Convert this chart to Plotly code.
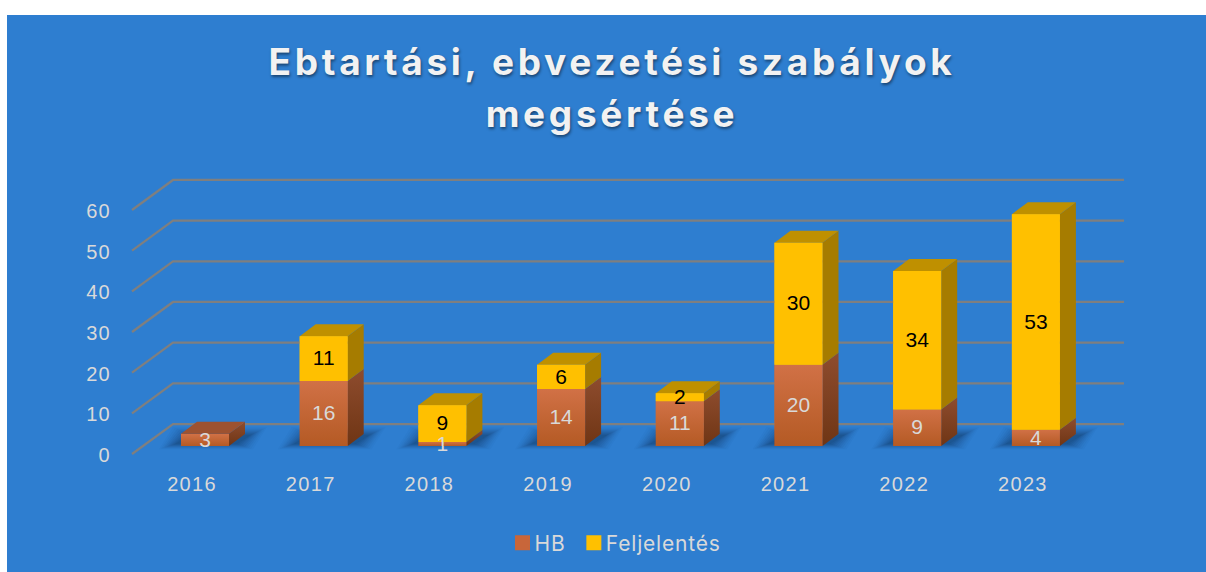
import plotly.graph_objects as go

years = ["2016", "2017", "2018", "2019", "2020", "2021", "2022", "2023"]
hb = [3, 16, 1, 14, 11, 20, 9, 4]
feljelentes = [None, 11, 9, 6, 2, 30, 34, 53]
y_ticks = [0, 10, 20, 30, 40, 50, 60]
title_text = "Ebtartási, ebvezetési szabályok<br>megsértése"

# Pixel scales of the plot area (styling of the pseudo-3D projection)
W, H = 1206, 572
L, R, T, B = 115, 1130, 170, 470
PX_X = 118.7
PX_Y = 4.067
X0_PX, Y0_PX = 192, 454
xr = [(L - X0_PX) / PX_X, (R - X0_PX) / PX_X]
yr = [(Y0_PX - B) / PX_Y, (Y0_PX - T) / PX_Y]
dx = lambda p: p / PX_X
dy = lambda p: p / PX_Y

BLUE = "#2E7ED0"
TXT = "#D9D9D9"
GRID = "#7F7F7F"
BAR_OFF = dx(13)
BAR_W = dx(48)
FLOOR = dy(8)
DEPTH_X, DEPTH_Y = dx(16), dy(12)
LABEL_SHIFT = dy(1.5)
n = list(range(len(years)))

fig = go.Figure()

# Legend / base bars
hb_base = [FLOOR] * len(hb)
f_base = [FLOOR + v for v in hb]
fig.add_bar(x=[i + BAR_OFF for i in n], y=hb, base=hb_base, width=BAR_W, name="HB",
            marker=dict(color="#C8663A", line_width=0))
fig.add_bar(x=[i + BAR_OFF for i in n], y=feljelentes, base=f_base, width=BAR_W, name="Feljelentés",
            marker=dict(color="#FFC000", line_width=0))

# Grid: left wall + back wall
gx, gy = [], []
for t in y_ticks:
    gx += [xr[0] + dx(17), xr[0] + dx(58), xr[1] - dx(6), None]
    gy += [t, t + dy(30), t + dy(30), None]
fig.add_scatter(x=gx, y=gy, mode="lines", line=dict(color=GRID, width=2.25), hoverinfo="skip", showlegend=False)


def poly(xs, ys, color=None, grad=None):
    kw = dict(x=xs + [xs[0]], y=ys + [ys[0]], mode="lines", fill="toself", line=dict(width=0),
              hoverinfo="skip", showlegend=False)
    if grad:
        kw["fillgradient"] = dict(type="vertical", colorscale=[[0, grad[0]], [1, grad[1]]])
        kw["fillcolor"] = grad[0]
    else:
        kw["fillcolor"] = color
    fig.add_scatter(**kw)


# Floor shadows (stacked translucent layers imitate the blur)
for i in n:
    x0 = i + BAR_OFF - BAR_W / 2
    x1 = x0 + BAR_W
    for grow, alpha in [(10, 0.03), (8, 0.04), (6, 0.05), (4, 0.06), (2, 0.07), (0, 0.08), (-2, 0.09), (-4, 0.09), (-6, 0.09)]:
        poly([x0 - dx(12 + grow), x1 + dx(14 + grow), x1 + dx(28 + grow), x0 + dx(2 - grow)],
             [FLOOR - dy(0 + grow / 3)] * 2 + [FLOOR + dy(14 + grow / 2)] * 2,
             color=f"rgba(15,40,80,{alpha})")

# Bars: side faces, top faces, front faces
for i in n:
    x0 = i + BAR_OFF - BAR_W / 2
    x1 = x0 + BAR_W
    b0, b1 = FLOOR, FLOOR + hb[i]
    poly([x1, x1 + DEPTH_X, x1 + DEPTH_X, x1], [b0, b0 + DEPTH_Y, b1 + DEPTH_Y, b1], grad=("#6F3514", "#8E4C2E"))
    poly([x0, x1, x1, x0], [b0, b0, b1, b1], grad=("#B45A24", "#D17146"))
    f = feljelentes[i]
    if f:
        t = b1 + f
        poly([x1, x1 + DEPTH_X, x1 + DEPTH_X, x1], [b1, b1 + DEPTH_Y, t + DEPTH_Y, t], color="#A67C00")
        poly([x0, x1, x1 + DEPTH_X, x0 + DEPTH_X], [t, t, t + DEPTH_Y, t + DEPTH_Y], color="#BF9000")
        poly([x0, x1, x1, x0], [b1, b1, t, t], color="#FFC000")
    else:
        poly([x0, x1, x1 + DEPTH_X, x0 + DEPTH_X], [b1, b1, b1 + DEPTH_Y, b1 + DEPTH_Y], color="#9D5230")

# Data labels
fig.add_scatter(x=[i + BAR_OFF for i in n], y=[FLOOR + v / 2 - LABEL_SHIFT for v in hb], mode="text",
                text=[str(v) for v in hb], textposition="middle center",
                textfont=dict(family="Liberation Sans", size=21, color=TXT), hoverinfo="skip", showlegend=False)
fx = [i + BAR_OFF for i in n if feljelentes[i]]
fy = [FLOOR + hb[i] + feljelentes[i] / 2 - LABEL_SHIFT for i in n if feljelentes[i]]
fig.add_scatter(x=fx, y=fy, mode="text", text=[str(feljelentes[i]) for i in n if feljelentes[i]],
                textposition="middle center", textfont=dict(family="Liberation Sans", size=21, color="#000000"),
                hoverinfo="skip", showlegend=False)

fig.update_layout(
    width=W, height=H, autosize=False, barmode="overlay",
    paper_bgcolor="#FFFFFF", plot_bgcolor="rgba(0,0,0,0)",
    margin=dict(l=L, r=W - R, t=T, b=H - B, pad=0),
    font=dict(family="Liberation Sans", color=TXT, size=20),
    title=dict(text=title_text, x=612 / W, xanchor="center", y=1 - 75 / H, yanchor="top",
               font=dict(family="Inter", size=37, weight=700, color="#F2F2F2",
                         shadow="1px 2px 3px rgba(0,0,0,0.45)")),
    legend=dict(orientation="h", x=612 / W, xref="container", xanchor="center", y=1 - 543 / H, yref="container",
                yanchor="middle", font=dict(family="Inter", size=21, color=TXT),
                bgcolor="rgba(0,0,0,0)", itemclick=False),
    xaxis=dict(range=xr, tickmode="array", tickvals=n, ticktext=years, showgrid=False, zeroline=False,
               showline=False, ticks="", tickfont=dict(size=20, color=TXT), fixedrange=True),
    yaxis=dict(range=yr, tickmode="array", tickvals=y_ticks, showgrid=False, zeroline=False,
               showline=False, ticks="", tickfont=dict(size=20, color=TXT), fixedrange=True,
               ticklabelstandoff=3, ticklabelshift=1),
    shapes=[dict(type="rect", layer="below", xref="paper", yref="paper",
                 x0=(7 - L) / (R - L), x1=(W - L) / (R - L) + 0.01,
                 y0=(B - H) / (B - T) - 0.01, y1=(B - 15) / (B - T),
                 fillcolor=BLUE, line_width=0)],
)

post = """
document.body.style.margin='0';
document.querySelectorAll('.gtitle').forEach(e=>{e.style.letterSpacing='3.7px';});
document.querySelectorAll('.gtitle tspan.line').forEach((e,i)=>{e.setAttribute('dy',(i*1.41)+'em');});
document.querySelectorAll('.xtick text,.ytick text').forEach(e=>{e.style.letterSpacing='1.3px';});
document.querySelectorAll('.legend .traces').forEach((g,i)=>{
  const t=g.querySelector('.legendtext'); t.style.letterSpacing='0.8px'; t.setAttribute('x','32');
  const p=g.querySelector('.legendpoints path'); p.setAttribute('transform',(p.getAttribute('transform')||'')+' scale(1.25)');
  const m=(g.getAttribute('transform')||'').match(/translate\\(([-\\d.]+)[ ,]+([-\\d.]+)\\)/);
  if(m){g.setAttribute('transform','translate('+(parseFloat(m[1])+(i?0.5:3.5))+','+m[2]+')');}
});
"""
fig.write_html("out.html", post_script=post, config=dict(displayModeBar=False))
